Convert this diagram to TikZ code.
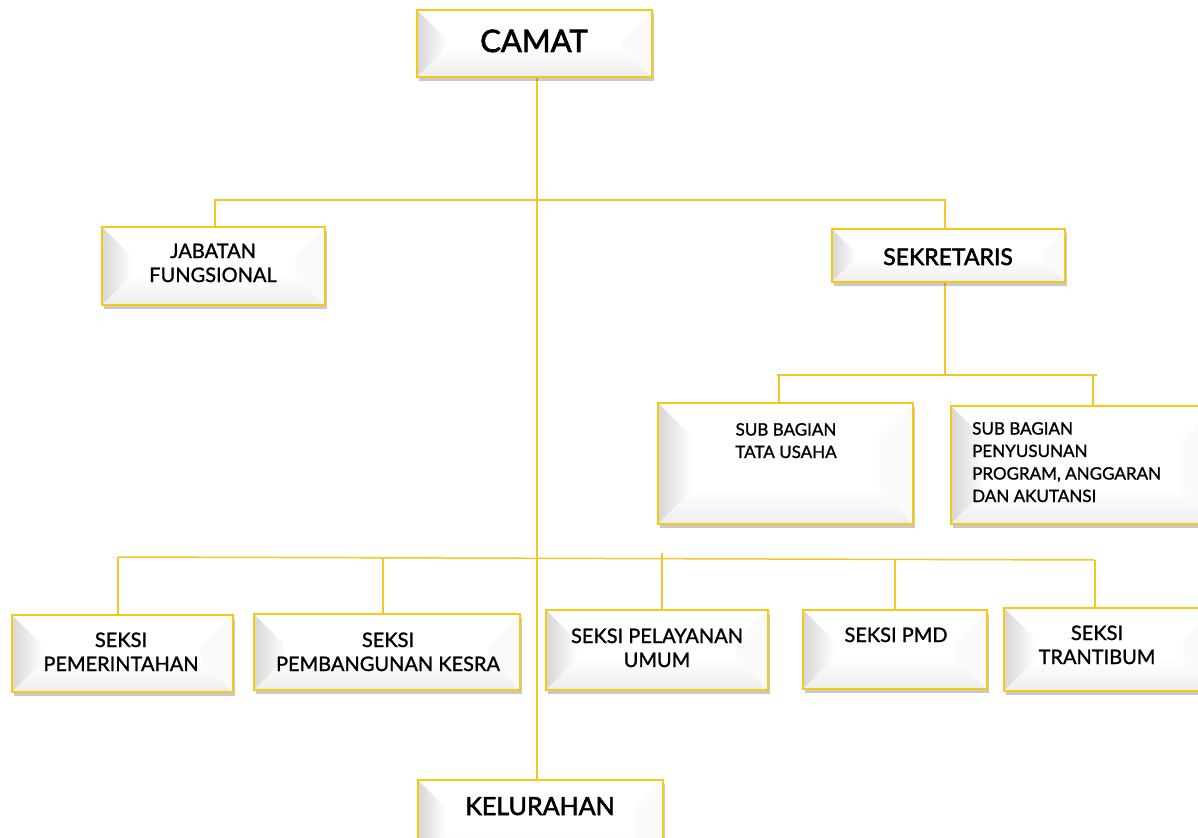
\documentclass[tikz,border=0pt]{standalone}
\usepackage{fontspec}
\setmainfont{Lato}[FakeBold=1.2]
\newfontfamily\headfont{Lato}[FakeBold=2.2]
\usetikzlibrary{shadows}
\definecolor{boxgold}{RGB}{244,202,22}
\definecolor{linegold}{RGB}{246,198,40}
\newcommand\bevsize{26}
\tikzset{
  bevel/.code={\renewcommand\bevsize{#1}},
  orgbox/.style={draw=boxgold, line width=2.6pt, fill=white, inner sep=0pt,
    drop shadow={shadow xshift=2pt, shadow yshift=-4pt, opacity=.3, fill=black!70},
    path picture={
      \path (path picture bounding box.south west) coordinate (pSW)
            (path picture bounding box.north east) coordinate (pNE)
            (path picture bounding box.south east) coordinate (pSE)
            (path picture bounding box.north west) coordinate (pNW);
      \shade[left color=black!16, right color=white]
        (pSW) -- (pNW) -- ([shift={(\bevsize pt,-\bevsize pt)}]pNW)
        -- ([shift={(\bevsize pt,\bevsize pt)}]pSW) -- cycle;
      \shade[top color=white, bottom color=black!7]
        (pSW) -- ([shift={(\bevsize pt,\bevsize pt)}]pSW)
        -- ([shift={(-\bevsize pt,\bevsize pt)}]pSE) -- (pSE) -- cycle;
      \fill[black!2]
        (pSE) -- ([shift={(-\bevsize pt,\bevsize pt)}]pSE)
        -- ([shift={(-\bevsize pt,-\bevsize pt)}]pNE) -- (pNE) -- cycle;
    }},
  conn/.style={draw=linegold, line width=1.5pt},
  lbl/.style={inner sep=0pt, align=center, font=\fontsize{20}{24}\selectfont},
  small/.style={inner sep=0pt, font=\fontsize{17}{22.5}\selectfont},
  head/.style={inner sep=0pt, font=\headfont\fontsize{#1}{#1}\selectfont}
}
\newcommand\mkbox[6][26]{\node[orgbox, bevel=#1, minimum width={#5-#3}, minimum height={#6-#4}] (#2) at ({(#3+#5)/2},{(#4+#6)/2}) {};}
\begin{document}
\begin{tikzpicture}[x=1pt,y=-1pt]
\useasboundingbox (0,0) rectangle (1198,837);
\clip (0,0) rectangle (1198,837);
% junction coordinates
\coordinate (bus1) at (537,200);
\coordinate (bus2) at (945,375);
\coordinate (d1) at (779,375);
\coordinate (d2) at (1093,375);
\coordinate (s1) at (118,557);
\coordinate (s2) at (383,558);
\coordinate (s3) at (662,553);
\coordinate (s4) at (895,559);
\coordinate (s5) at (1095,560);
% connectors drawn first
\draw[conn] (537,77) -- (537,780);
\draw[conn] (215,227) -- (215,200) -- (945,200) -- (945,229);
\draw[conn] (945,282) -- (bus2);
\draw[conn] (777,375) -- (1097,375);
\draw[conn] (d1) -- (779,403);
\draw[conn] (d2) -- (1093,406);
\draw[conn] (s1) -- (s5);
\draw[conn] (s1) -- (118,615);
\draw[conn] (s2) -- (383,615);
\draw[conn] (s3) -- (662,610);
\draw[conn] (s4) -- (895,610);
\draw[conn] (s5) -- (1095,608);
% boxes
\mkbox[30]{camat}{417}{10}{652}{77}
\mkbox[30]{jab}{102}{227}{325}{305}
\mkbox[24]{sek}{832}{229}{1065}{282}
\mkbox[34]{tu}{658}{403}{913}{524}
\mkbox[34]{ppa}{951}{406}{1215}{524}
\mkbox[32]{pem}{12}{615}{233}{692}
\mkbox[32]{pmb}{254}{614}{520}{690}
\mkbox[32]{pel}{546}{610}{768}{690}
\mkbox[32]{pmd}{803}{610}{987}{689}
\mkbox[32]{trb}{1004}{608}{1215}{691}
\mkbox[28]{kel}{418}{780}{663}{860}
% texts
\node[head=31, anchor=base] (tcamat) at (534,52) {CAMAT};
\node[lbl, anchor=base] (tjab) at (213,282) {JABATAN\\FUNGSIONAL};
\node[head=23, anchor=base] (tsek) at (948,265) {SEKRETARIS};
\node[small, align=center, anchor=base] (ttu) at (786,458) {SUB BAGIAN\\TATA USAHA};
\node[small, align=left, anchor=base west] (tppa) at (972,502) {SUB BAGIAN\\PENYUSUNAN\\PROGRAM, ANGGARAN\\DAN AKUTANSI};
\node[lbl, anchor=base] (tpem) at (121,671) {SEKSI\\PEMERINTAHAN};
\node[lbl, anchor=base] (tpmb) at (388,671) {SEKSI\\PEMBANGUNAN KESRA};
\node[lbl, anchor=base] (tpel) at (657,667) {SEKSI PELAYANAN\\UMUM};
\node[lbl, anchor=base] (tpmd) at (896,642) {SEKSI PMD};
\node[lbl, anchor=base] (ttrb) at (1097,664) {SEKSI\\TRANTIBUM};
\node[head=25, anchor=base] (tkel) at (540,815) {KELURAHAN};
\end{tikzpicture}
\end{document}
